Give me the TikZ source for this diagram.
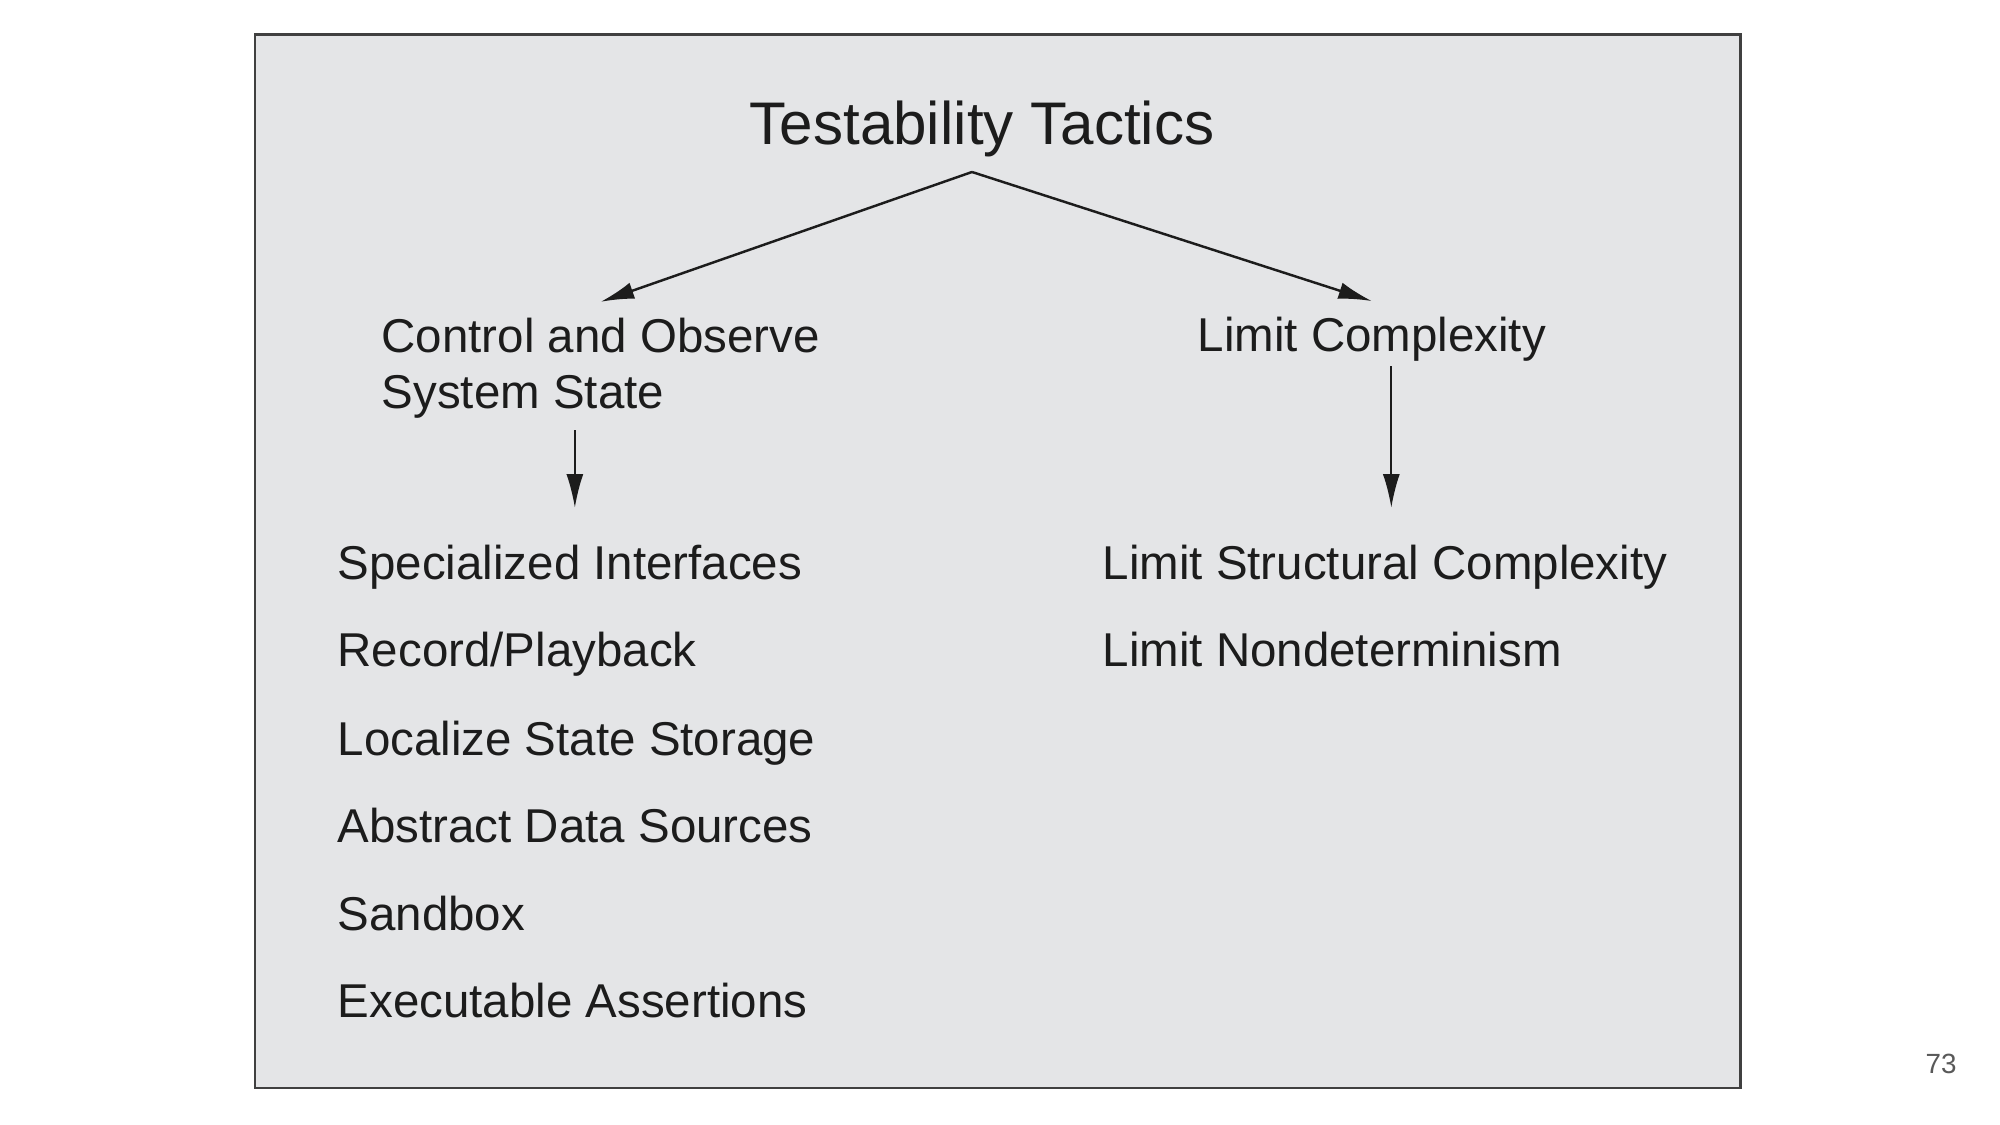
\documentclass[tikz,border=0pt]{standalone}
\usepackage{fontspec}
\setmainfont{Liberation Sans}
\usetikzlibrary{arrows.meta,positioning}
\definecolor{panel}{HTML}{E4E5E7}
\definecolor{ink}{HTML}{1C1C1C}

\begin{document}
\begin{tikzpicture}[x=0.01cm,y=-0.01cm,
    item/.style={anchor=base west, inner sep=0pt, text=ink, font=\fontsize{13.5}{16.2}\selectfont},
    arr/.style={draw=ink, line width=0.7pt, -{Latex[length=9.5pt,width=4.8pt]}}]
    \useasboundingbox (0,0) rectangle (2000,1125);
    \draw[fill=panel, draw=black!75, line width=0.85pt] (255,35) rectangle (1740,1088);

    \node[item, anchor=base, font=\fontsize{17.1}{20}\selectfont] (title) at (982,145) {Testability Tactics};
    \coordinate (apex) at (972,172);

    % base of a two-line node sits on its last line
    \node[item, align=left] (ctrl) at (381,409) {Control and Observe\\System State};
    \node[item] (lim) at (1197,352) {Limit Complexity};
    \draw[arr] (apex) -- ([yshift=4.3pt]ctrl.north);
    \draw[arr] (apex) -- ([yshift=4.5pt]lim.north);

    % left column
    \node[item] (spec) at (337,580) {Specialized Interfaces};
    \node[item] (rec) at (337,667) {Record/Playback};
    \node[item] (loc) at (337,755) {Localize State Storage};
    \node[item] (abs) at (337,842) {Abstract Data Sources};
    \node[item] (sand) at (337,930) {Sandbox};
    \node[item] (exe) at (337,1017) {Executable Assertions};
    \draw[arr, line width=0.5pt, shorten <=3pt] ([xshift=1.4pt]ctrl.south -| spec.north) -- ([xshift=1.4pt,yshift=10.6pt]spec.north);

    % right column
    \node[item] (lsc) at (1102,580) {Limit Structural Complexity};
    \node[item] (lnd) at (1102,667) {Limit Nondeterminism};
    \draw[arr, line width=0.5pt, shorten <=1pt] ([xshift=1.8pt]lim.south -| lsc.north) -- ([xshift=1.8pt,yshift=10.6pt]lsc.north);

    \node[item, text=black!65, font=\fontsize{7.9}{9}\selectfont] (page) at (1925,1073) {73};
\end{tikzpicture}
\end{document}
